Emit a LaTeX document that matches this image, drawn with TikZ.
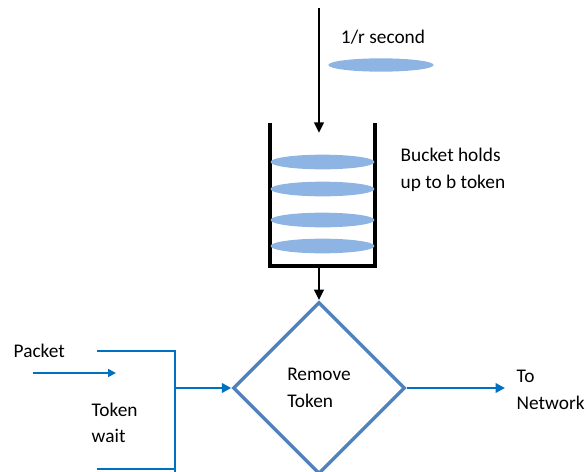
\documentclass[tikz,border=0pt]{standalone}
\usepackage{fontspec}
\setmainfont{Carlito}
\usetikzlibrary{shapes.geometric,arrows.meta}
\definecolor{tokenblue}{RGB}{141,180,226}
\definecolor{flowblue}{RGB}{0,112,192}
\definecolor{boxblue}{RGB}{79,129,189}
\begin{document}
\begin{tikzpicture}[x=0.75pt, y=-0.75pt,
	every node/.style={font=\fontsize{14.5}{20}\selectfont},
	token/.style={ellipse, fill=tokenblue, inner sep=0pt, minimum width=78pt, minimum height=11pt},
	blackarrow/.style={-{Triangle[length=8pt,width=7pt]}, line width=2pt},
	bluearrow/.style={-{Triangle[length=7pt,width=7pt]}, draw=flowblue, line width=2.2pt}]
	\useasboundingbox (0,0) rectangle (587,472);

	% falling token
	\coordinate (drop) at (319,8);
	\coordinate (bucketTop) at (319,133);
	\node[token, minimum width=79pt, minimum height=10pt](newToken) at (381,65){};
	\node(rateText) at (383,37){1/r second};
	\draw[blackarrow] (drop) -- (bucketTop);

	% bucket
	\coordinate (bucketTL) at (270,123);
	\coordinate (bucketTR) at (375,123);
	\coordinate (bucketOut) at (319,266);
	\draw[line width=2.6pt, line join=miter] (bucketTL) -- (270,266) -- (375,266) -- (bucketTR);
	\node[token](tokOne) at (322.5,162){};
	\node[token](tokTwo) at (322.5,189){};
	\node[token](tokThree) at (322.5,220){};
	\node[token](tokFour) at (322.5,246){};
	\node[anchor=west, align=left](bucketText) at (396,170){Bucket holds\\up to b token};

	% remove token
	\node[diamond, draw=boxblue, line width=2.6pt, minimum width=129pt, minimum height=129pt, inner sep=0pt, align=left](remove) at (319,388){Remove\\Token};
	\draw[blackarrow] (bucketOut) -- (remove.north);

	% waiting packets
	\coordinate (waitTop) at (97,351);
	\coordinate (waitBot) at (97,469);
	\coordinate (join) at (175,388);
	\draw[draw=flowblue, line width=2.2pt] (waitTop) -- (175,351) -- (175,472);
	\draw[draw=flowblue, line width=2.2pt] (175,469) -- (waitBot);
	\draw[bluearrow] (join) -- (remove.west);
	\coordinate (pktStart) at (33,373);
	\coordinate (pktEnd) at (116,373);
	\draw[-{Triangle[length=6pt,width=6pt]}, draw=flowblue, line width=1.3pt] (pktStart) -- (pktEnd);
	\node[anchor=west](packetText) at (9,351){Packet};
	\node[anchor=west, align=left](waitText) at (87,423){Token\\wait};

	% to network
	\coordinate (net) at (505,388);
	\draw[bluearrow] (remove.east) -- (net);
	\node[anchor=west, align=left](netText) at (512,390){To\\Network};
\end{tikzpicture}
\end{document}
